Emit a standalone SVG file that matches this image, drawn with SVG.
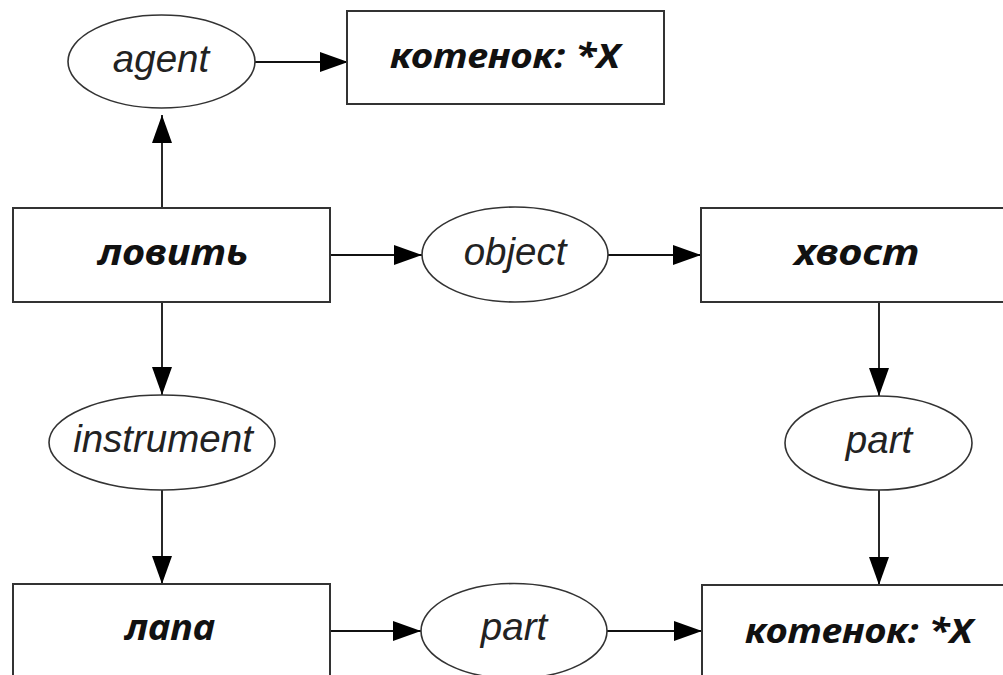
<svg xmlns="http://www.w3.org/2000/svg" width="1003" height="675" viewBox="0 0 1003 675">
  <defs>
    <marker id="arrow" markerWidth="28" markerHeight="20" refX="28" refY="10" orient="auto" markerUnits="userSpaceOnUse">
      <path d="M0,0 L28,10 L0,20 Z" fill="#000"/>
    </marker>
    <style>
      .box { fill: #fff; stroke: #333; stroke-width: 2; }
      .rel { fill: #fff; stroke: #333; stroke-width: 1.6; }
      .concept { font-family: "Noto Sans", "Open Sans", sans-serif; font-weight: bold; font-style: italic; font-size: 34px; fill: #111; text-anchor: middle; }
      .big { font-size: 36px; }
      .label { font-family: "Liberation Sans", Arial, sans-serif; font-style: italic; font-size: 38.5px; fill: #222; text-anchor: middle; }
      .edge { fill: none; stroke: #111; stroke-width: 1.8; marker-end: url(#arrow); }
    </style>
  </defs>
  <rect width="1003" height="675" fill="#fff"/>

  <g id="connectors">
    <path class="edge" d="M255,62 H348"/>
    <path class="edge" d="M162,208 V115"/>
    <path class="edge" d="M330,255 H422"/>
    <path class="edge" d="M608,255 H701"/>
    <path class="edge" d="M162,302 V395"/>
    <path class="edge" d="M162,490 V584"/>
    <path class="edge" d="M879,302 V396"/>
    <path class="edge" d="M879,490 V585"/>
    <path class="edge" d="M330,631 H421"/>
    <path class="edge" d="M607,631 H702"/>
  </g>

  <g id="kitten-top">
    <rect class="box" x="347" y="11" width="317" height="93"/>
    <text class="concept" x="505" y="68" textLength="230" lengthAdjust="spacingAndGlyphs">котенок: *X</text>
  </g>
  <g id="agent">
    <ellipse class="rel" cx="161.5" cy="61.5" rx="93.5" ry="46.5"/>
    <text class="label" x="161" y="72">agent</text>
  </g>
  <g id="catch">
    <rect class="box" x="13" y="208" width="317" height="94"/>
    <text class="concept big" x="173" y="265" textLength="150" lengthAdjust="spacingAndGlyphs">ловить</text>
  </g>
  <g id="object">
    <ellipse class="rel" cx="515" cy="254.5" rx="93" ry="47.5"/>
    <text class="label" x="515" y="265">object</text>
  </g>
  <g id="tail">
    <rect class="box" x="701" y="208" width="317" height="94"/>
    <text class="concept big" x="857" y="265" textLength="125" lengthAdjust="spacingAndGlyphs">хвост</text>
  </g>
  <g id="instrument">
    <ellipse class="rel" cx="162" cy="442.5" rx="113" ry="47.5"/>
    <text class="label" x="163" y="452">instrument</text>
  </g>
  <g id="part-right">
    <ellipse class="rel" cx="878.5" cy="443" rx="93.5" ry="47"/>
    <text class="label" x="879" y="453">part</text>
  </g>
  <g id="paw">
    <rect class="box" x="13" y="584" width="317" height="100"/>
    <text class="concept big" x="170" y="640" textLength="90" lengthAdjust="spacingAndGlyphs">лапа</text>
  </g>
  <g id="part-bottom">
    <ellipse class="rel" cx="514" cy="631" rx="93" ry="47.5"/>
    <text class="label" x="514" y="640">part</text>
  </g>
  <g id="kitten-bottom">
    <rect class="box" x="702" y="585" width="317" height="100"/>
    <text class="concept" x="859" y="643" textLength="228" lengthAdjust="spacingAndGlyphs">котенок: *X</text>
  </g>
</svg>
